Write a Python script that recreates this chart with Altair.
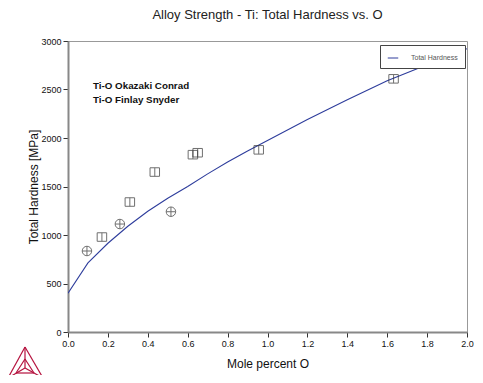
import altair as alt
import pandas as pd

# Calculated curve (Total Hardness vs. mole percent O)
curve_x = [0.0, 0.1, 0.2, 0.3, 0.4, 0.5, 0.6, 0.7, 0.8, 0.9, 1.0, 1.2, 1.4, 1.6, 1.8, 2.0]
curve_y = [400, 712, 915, 1090, 1245, 1378, 1500, 1630, 1752, 1865, 1975, 2190, 2395, 2590, 2755, 2920]

# Experimental: Ti-O Okazaki Conrad (circle with cross)
okazaki_x = [0.095, 0.26, 0.516]
okazaki_y = [835, 1113, 1240]

# Experimental: Ti-O Finlay Snyder (square with bar)
finlay_x = [0.17, 0.31, 0.435, 0.626, 0.65, 0.956, 1.632]
finlay_y = [979, 1340, 1649, 1828, 1848, 1878, 2610]

annot_text = ["Ti-O Okazaki Conrad", "Ti-O Finlay Snyder"]
annot_x = [0.125, 0.125]
annot_y = [2536, 2388]

x_ticks = [0, 0.2, 0.4, 0.6, 0.8, 1.0, 1.2, 1.4, 1.6, 1.8, 2.0]
y_ticks = [0, 500, 1000, 1500, 2000, 2500, 3000]

# Logo segments (decoration, pixel offsets from plot origin)
logo_x1 = [-43, -43, -60, -43, -43, -43, -52, -34, -52]
logo_y1 = [306, 306, 337, 306, 327, 327, 332, 332, 332]
logo_x2 = [-60, -25, -25, -43, -60, -25, -34, -43, -43]
logo_y2 = [337, 337, 337, 327, 337, 337, 332, 318, 318]

curve = pd.DataFrame({"x": curve_x, "y": curve_y, "series": "Total Hardness"})
oka = pd.DataFrame({"x": okazaki_x, "y": okazaki_y})
fin = pd.DataFrame({"x": finlay_x, "y": finlay_y})
ann = pd.DataFrame({"t": annot_text, "x": annot_x, "y": annot_y})
logo = pd.DataFrame({"lx": logo_x1, "ly": logo_y1, "lx2": logo_x2, "ly2": logo_y2})

xs = alt.Scale(domain=[0, 2], nice=False)
ys = alt.Scale(domain=[0, 3000], nice=False)

X = alt.X("x:Q", scale=xs, title="Mole percent O",
          axis=alt.Axis(values=x_ticks, format=".1f", labelOverlap=False))
Y = alt.Y("y:Q", scale=ys, title="Total Hardness [MPa]",
          axis=alt.Axis(values=y_ticks, format="d", labelOverlap=False))

line = alt.Chart(curve).mark_line(strokeWidth=1.1, clip=True).encode(
    x=X, y=Y,
    color=alt.Color("series:N", scale=alt.Scale(range=["#2e3d9c"]),
                    legend=alt.Legend(title=None, orient="none", legendX=312, legendY=4,
                                      symbolType="stroke", symbolSize=110, symbolStrokeWidth=1,
                                      labelFontSize=7, labelColor="#555", labelFont="Liberation Sans",
                                      strokeColor="#444", fillColor="white", padding=7,
                                      labelOffset=12))
)

sq_path = "M-1,-0.9H1V0.9H-1Z M0,-0.9V0.9"
ci_path = "M-1,0A1,1 0 1,1 1,0A1,1 0 1,1 -1,0Z M-1,0H1 M0,-1V1"

pts_f = alt.Chart(fin).mark_point(shape=sq_path, size=90, filled=False, stroke="#333",
                                  strokeWidth=1).encode(x=X, y=Y)
pts_o = alt.Chart(oka).mark_point(shape=ci_path, size=90, filled=False, stroke="#333",
                                  strokeWidth=1).encode(x=X, y=Y)

txt = alt.Chart(ann).mark_text(align="left", baseline="middle", fontSize=9.8, fontWeight="bold",
                               font="Liberation Sans", color="#111").encode(
    x=X, y=Y, text="t:N")

logo_layer = alt.Chart(logo).mark_rule(color="#b5123e", strokeWidth=1.2, clip=False).encode(
    x=alt.X("lx:Q", scale=None, axis=None), y=alt.Y("ly:Q", scale=None, axis=None),
    x2="lx2:Q", y2="ly2:Q")

chart = alt.layer(line, pts_f, pts_o, txt, logo_layer).properties(
    width=399, height=291,
    autosize=alt.AutoSizeParams(type="none"),
    padding={"left": 60, "top": 33, "right": 8, "bottom": 43},
    title=alt.TitleParams("Alloy Strength - Ti: Total Hardness vs. O", fontSize=13,
                          fontWeight="normal", font="Liberation Sans", color="#222",
                          anchor="middle", offset=15),
    background="white",
).configure_view(stroke="#999", strokeWidth=1).configure_axis(
    grid=False, domainColor="#888", domainWidth=2, tickColor="#333", tickSize=5,
    labelFontSize=9, labelFont="Liberation Sans", labelColor="#111",
    titleFont="Liberation Sans", titleFontSize=12, titleFontWeight="normal", titleColor="#111",
    labelPadding=2, labelOverlap=False,
).configure_axisY(titlePadding=0).configure_axisX(titlePadding=10, labelFlush=False,
                                                  labelOverlap=False)

chart.save("out.html", embed_options={"renderer": "svg", "actions": False})
